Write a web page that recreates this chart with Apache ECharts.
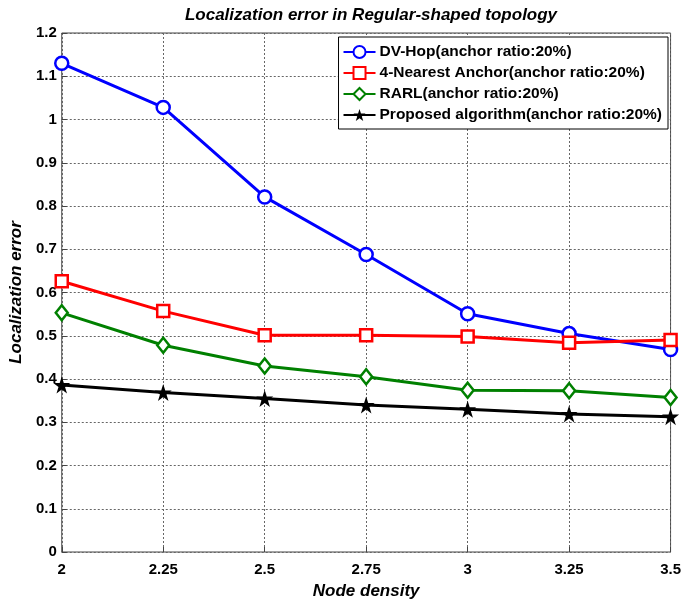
<!DOCTYPE html>
<html>
<head>
<meta charset="utf-8">
<script src="https://cdn.jsdelivr.net/npm/echarts@6/dist/echarts.min.js"></script>
<style>
  html, body { margin: 0; padding: 0; background: #fff; }
  #chart { width: 684px; height: 605px; }
</style>
</head>
<body>
<div id="chart"></div>
<script>
// Node density values on the x axis
const nodeDensity = [2, 2.25, 2.5, 2.75, 3, 3.25, 3.5];

// Localization error per method (anchor ratio 20%)
const dvHop = [1.13, 1.028, 0.821, 0.688, 0.551, 0.505, 0.468];
const nearest4 = [0.626, 0.557, 0.501, 0.501, 0.498, 0.484, 0.490];
const rarl = [0.553, 0.478, 0.430, 0.405, 0.374, 0.373, 0.357];
const proposed = [0.386, 0.369, 0.355, 0.340, 0.330, 0.319, 0.313];

const seriesNames = [
  'DV-Hop(anchor ratio:20%)',
  '4-Nearest Anchor(anchor ratio:20%)',
  'RARL(anchor ratio:20%)',
  'Proposed algorithm(anchor ratio:20%)'
];

const starPath = 'path://M50,0 L61.8,35.1 L98.9,35.1 L68.8,56.8 L80.3,91.9 L50,70.2 L19.7,91.9 L31.2,56.8 L1.1,35.1 L38.2,35.1 Z';

function pairs(ys) {
  return nodeDensity.map((x, i) => [x, ys[i]]);
}

const FONT = '"Liberation Sans", Arial, sans-serif';

function lineSeries(name, ys, color, symbol, size, filled) {
  return {
    name: name,
    type: 'line',
    data: pairs(ys),
    symbol: symbol,
    symbolSize: size,
    showAllSymbol: true,
    lineStyle: { color: color, width: 3 },
    itemStyle: {
      color: filled ? color : '#fff',
      borderColor: color,
      borderWidth: filled ? 0 : 2.5,
      opacity: 1
    },
    emphasis: { disabled: true },
    z: 3
  };
}

const chart = echarts.init(document.getElementById('chart'), null, { renderer: 'canvas' });

chart.setOption({
  animation: false,
  backgroundColor: '#fff',
  title: {
    text: 'Localization error in Regular-shaped topology',
    left: 366,
    top: 2,
    textAlign: 'center',
    textStyle: {
      fontFamily: FONT,
      fontSize: 17,
      fontWeight: 'bold',
      fontStyle: 'italic',
      color: '#000'
    }
  },
  grid: {
    left: 59,
    right: 12,
    top: 33,
    bottom: 46,
    show: true,
    borderColor: '#444',
    borderWidth: 1,
    containLabel: false
  },
  legend: {
    data: seriesNames,
    orient: 'vertical',
    right: 16,
    top: 37,
    padding: [7, 6, 6, 4],
    itemGap: 5,
    itemWidth: 32,
    itemHeight: 15,
    backgroundColor: '#fff',
    borderColor: '#000',
    borderWidth: 1,
    textStyle: {
      fontFamily: FONT,
      fontSize: 15.5,
      fontWeight: 'bold',
      color: '#000',
      padding: [0, 0, 0, -1]
    }
  },
  xAxis: {
    type: 'value',
    min: 2,
    max: 3.5,
    interval: 0.25,
    name: 'Node density',
    nameLocation: 'middle',
    nameGap: 31,
    nameTextStyle: {
      fontFamily: FONT,
      fontSize: 17,
      fontWeight: 'bold',
      fontStyle: 'italic',
      color: '#000'
    },
    axisLine: { show: false },
    axisTick: { show: true, inside: true, length: 5, lineStyle: { color: '#444' } },
    axisLabel: {
      fontFamily: FONT,
      fontSize: 15,
      fontWeight: 'bold',
      color: '#000',
      margin: 10
    },
    splitLine: { show: true, lineStyle: { color: '#666', type: [2, 2], width: 1 } }
  },
  yAxis: {
    type: 'value',
    min: 0,
    max: 1.2,
    interval: 0.1,
    name: 'Localization error',
    nameLocation: 'middle',
    nameGap: 34,
    nameTextStyle: {
      fontFamily: FONT,
      fontSize: 17,
      fontWeight: 'bold',
      fontStyle: 'italic',
      color: '#000'
    },
    axisLine: { show: false },
    axisTick: { show: true, inside: true, length: 5, lineStyle: { color: '#444' } },
    axisLabel: {
      fontFamily: FONT,
      fontSize: 15,
      fontWeight: 'bold',
      color: '#000',
      margin: 5
    },
    splitLine: { show: true, lineStyle: { color: '#666', type: [2, 2], width: 1 } }
  },
  series: [
    lineSeries(seriesNames[0], dvHop, '#0000ff', 'circle', 13, false),
    lineSeries(seriesNames[1], nearest4, '#ff0000', 'rect', 12, false),
    lineSeries(seriesNames[2], rarl, '#008000', 'diamond', [12, 15], false),
    lineSeries(seriesNames[3], proposed, '#000000', starPath, 17, true)
  ]
});
</script>
</body>
</html>
